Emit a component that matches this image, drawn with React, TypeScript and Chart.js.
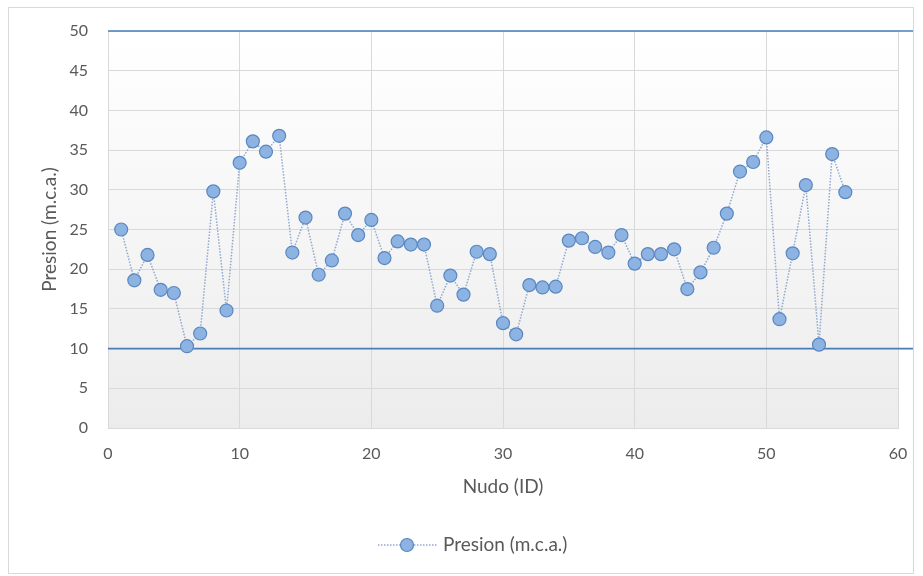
import { useEffect, useRef } from "react";
import { Chart, registerables } from "chart.js";

Chart.register(...registerables);

const nodes = [
  1, 2, 3, 4, 5, 6, 7, 8, 9, 10, 11, 12, 13, 14, 15, 16, 17, 18, 19, 20,
  21, 22, 23, 24, 25, 26, 27, 28, 29, 30, 31, 32, 33, 34, 35, 36, 37, 38, 39, 40,
  41, 42, 43, 44, 45, 46, 47, 48, 49, 50, 51, 52, 53, 54, 55, 56,
];

const pressure = [
  25.0, 18.6, 21.8, 17.4, 17.0, 10.3, 11.9, 29.8, 14.8, 33.4,
  36.1, 34.8, 36.8, 22.1, 26.5, 19.3, 21.1, 27.0, 24.3, 26.2,
  21.4, 23.5, 23.1, 23.1, 15.4, 19.2, 16.8, 22.2, 21.9, 13.2,
  11.8, 18.0, 17.7, 17.8, 23.6, 23.9, 22.8, 22.1, 24.3, 20.7,
  21.9, 21.9, 22.5, 17.5, 19.6, 22.7, 27.0, 32.3, 33.5, 36.6,
  13.7, 22.0, 30.6, 10.5, 34.5, 29.7,
];

const limitValues = [10, 50];

const seriesLabel = "Presion (m.c.a.)";
const xTitle = "Nudo (ID)";
const yTitle = "Presion (m.c.a.)";
const xRange = [0, 60];
const yRange = [0, 50];
const xStep = 10;
const yStep = 5;

const FONT = "Lato, 'Open Sans', sans-serif";
const TEXT = "#595959";
const GRID = "#d9d9d9";
const LIMIT = "#4a7db8";
const MARKER_FILL = "#8cb3e1";
const MARKER_BORDER = "#5a87c1";
const LINE = "rgba(125,155,200,0.85)";

const bgPlugin = {
  id: "plotBg",
  beforeDraw(chart: any) {
    const { ctx, chartArea: a } = chart;
    ctx.save();
    const g = ctx.createLinearGradient(0, a.top, 0, a.bottom);
    g.addColorStop(0, "#ffffff");
    g.addColorStop(1, "#ececec");
    ctx.fillStyle = g;
    ctx.fillRect(a.left, a.top, a.right - a.left, a.bottom - a.top);
    ctx.restore();
  },
};

const limitsPlugin = {
  id: "limits",
  beforeDatasetsDraw(chart: any) {
    const { ctx, chartArea: a, scales } = chart;
    ctx.save();
    ctx.strokeStyle = LIMIT;
    ctx.lineWidth = 1.6;
    for (const v of limitValues) {
      const y = scales.y.getPixelForValue(v);
      ctx.beginPath();
      ctx.moveTo(a.left, y);
      ctx.lineTo(chart.width, y);
      ctx.stroke();
    }
    ctx.restore();
  },
};

const frameLegendPlugin = {
  id: "frameLegend",
  afterDraw(chart: any) {
    const { ctx, width, height } = chart;
    ctx.save();
    ctx.strokeStyle = GRID;
    ctx.lineWidth = 1;
    ctx.strokeRect(0.5, 0.5, width - 1, height - 1);

    const cy = 538;
    const x0 = 370;
    const sw = 59;
    ctx.strokeStyle = LINE;
    ctx.lineWidth = 1.5;
    ctx.setLineDash([1.5, 1.5]);
    ctx.beginPath();
    ctx.moveTo(x0, cy);
    ctx.lineTo(x0 + sw, cy);
    ctx.stroke();
    ctx.setLineDash([]);
    ctx.beginPath();
    ctx.arc(x0 + 29, cy, 6.5, 0, Math.PI * 2);
    ctx.fillStyle = MARKER_FILL;
    ctx.fill();
    ctx.strokeStyle = MARKER_BORDER;
    ctx.lineWidth = 1.2;
    ctx.stroke();
    ctx.font = `19px ${FONT}`;
    ctx.fillStyle = TEXT;
    ctx.textAlign = "left";
    ctx.textBaseline = "middle";
    ctx.fillText(seriesLabel, x0 + sw + 6, cy);
    ctx.restore();
  },
};

export default function App() {
  const ref = useRef<HTMLCanvasElement | null>(null);

  useEffect(() => {
    if (!ref.current) return;
    const points = nodes.map((n, i) => ({ x: n, y: pressure[i] }));
    const chart = new Chart(ref.current, {
      type: "line",
      data: {
        datasets: [
          {
            label: seriesLabel,
            data: points,
            borderColor: LINE,
            borderWidth: 1.5,
            borderDash: [1.5, 1.5],
            pointRadius: 6.5,
            pointHoverRadius: 6.5,
            pointBackgroundColor: MARKER_FILL,
            pointBorderColor: MARKER_BORDER,
            pointBorderWidth: 1.2,
            tension: 0,
            fill: false,
          },
        ],
      },
      options: {
        animation: false,
        responsive: false,
        maintainAspectRatio: false,
        layout: { padding: { top: 24, right: 16, left: 0, bottom: 0 } },
        plugins: {
          legend: { display: false },
          tooltip: { enabled: false },
        },
        scales: {
          x: {
            type: "linear",
            min: xRange[0],
            max: xRange[1],
            afterFit(s: any) {
              s.height = 146;
              s.paddingLeft = 0;
              s.paddingRight = 0;
            },
            ticks: {
              stepSize: xStep,
              color: TEXT,
              padding: 16,
              font: { family: FONT, size: 16 },
            },
            grid: { color: GRID, drawTicks: false, lineWidth: 1 },
            border: { color: GRID },
            title: {
              display: true,
              text: xTitle,
              color: TEXT,
              font: { family: FONT, size: 19 },
              padding: { top: 0, bottom: 76 },
            },
          },
          y: {
            type: "linear",
            min: yRange[0],
            max: yRange[1],
            afterFit(s: any) {
              s.width = 100;
              s.paddingTop = 0;
              s.paddingBottom = 0;
            },
            ticks: {
              stepSize: yStep,
              color: TEXT,
              padding: 20,
              font: { family: FONT, size: 16 },
            },
            grid: { color: GRID, drawTicks: false, lineWidth: 1 },
            border: { color: GRID },
            title: {
              display: true,
              text: yTitle,
              color: TEXT,
              font: { family: FONT, size: 19 },
              padding: { top: 30, bottom: 0 },
            },
          },
        },
      },
      plugins: [bgPlugin, limitsPlugin, frameLegendPlugin],
    });
    return () => chart.destroy();
  }, []);

  return (
    <div
      style={{
        position: "fixed",
        left: 8,
        top: 7,
        width: 906,
        height: 567,
        background: "#ffffff",
      }}
    >
      <canvas
        ref={ref}
        width={906}
        height={567}
        style={{ display: "block", width: 906, height: 567 }}
      />
    </div>
  );
}
